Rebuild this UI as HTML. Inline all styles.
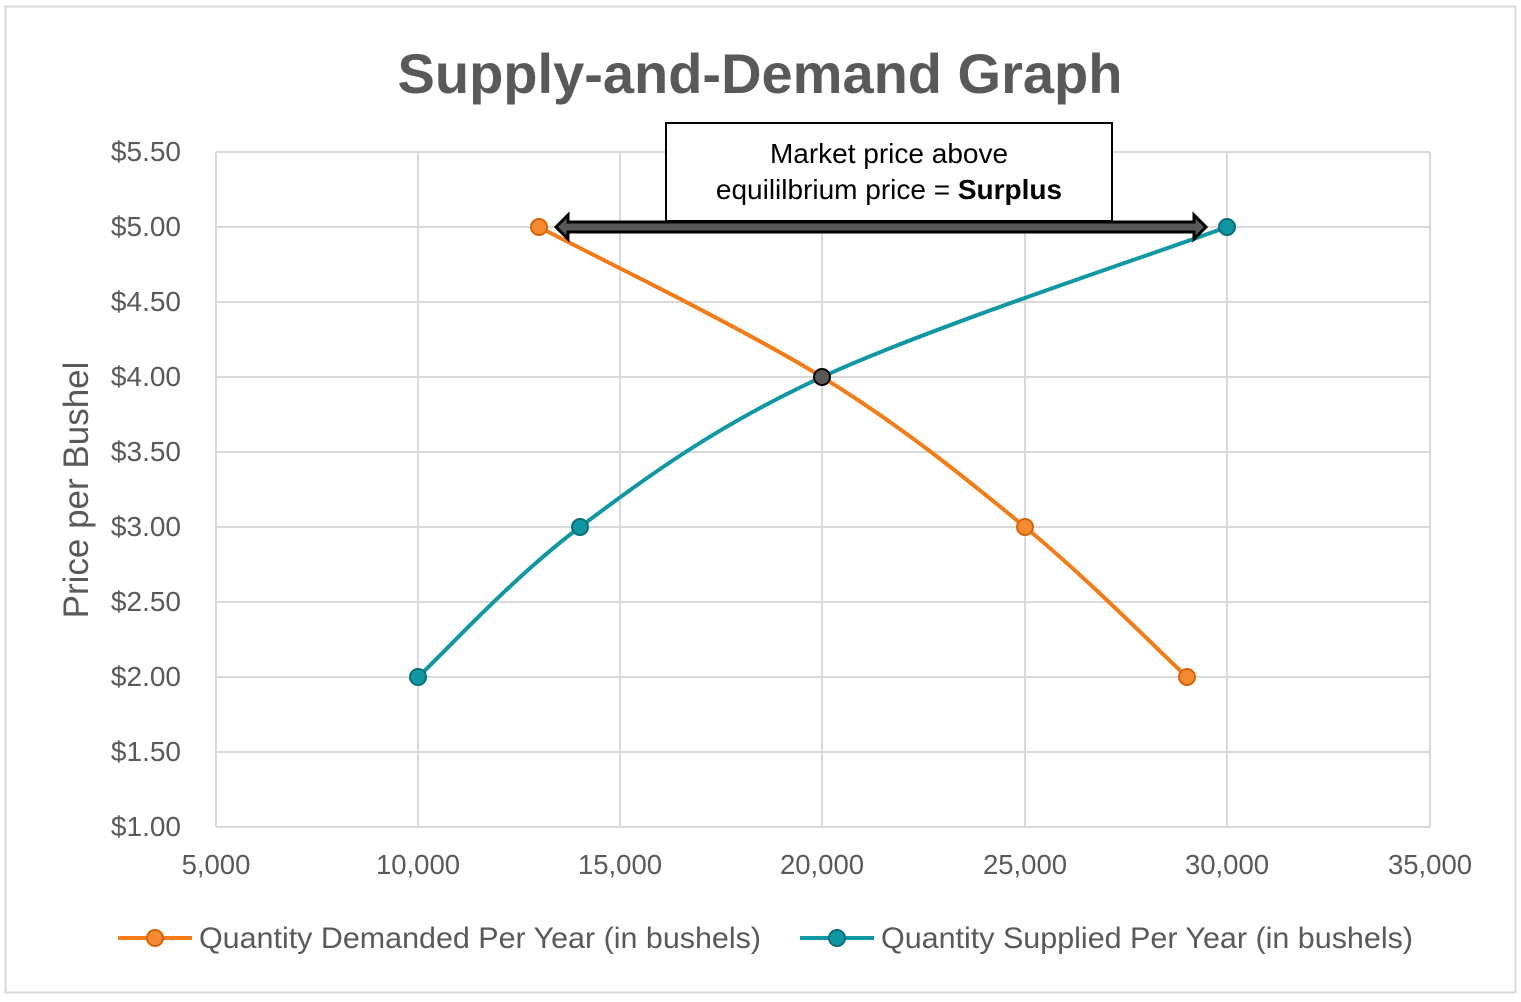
<!DOCTYPE html>
<html><head><meta charset="utf-8"><style>
body{margin:0;background:#fff}
svg text{font-family:"Liberation Sans",sans-serif}
</style></head><body>
<svg width="1521" height="997" viewBox="0 0 1521 997" xmlns="http://www.w3.org/2000/svg">
<rect x="0" y="0" width="1521" height="997" fill="#fff"/>
<rect x="5.5" y="6.5" width="1510" height="986" fill="none" stroke="#d9d9d9" stroke-width="2"/>
<text x="760" y="93" text-anchor="middle" font-size="56" font-weight="bold" fill="#595959">Supply-and-Demand Graph</text>
<g stroke="#d9d9d9" stroke-width="2">
<line x1="216" y1="152" x2="1430" y2="152"/><line x1="216" y1="227" x2="1430" y2="227"/>
<line x1="216" y1="302" x2="1430" y2="302"/><line x1="216" y1="377" x2="1430" y2="377"/>
<line x1="216" y1="452" x2="1430" y2="452"/><line x1="216" y1="527" x2="1430" y2="527"/>
<line x1="216" y1="602" x2="1430" y2="602"/><line x1="216" y1="677" x2="1430" y2="677"/>
<line x1="216" y1="752" x2="1430" y2="752"/><line x1="216" y1="827" x2="1430" y2="827"/>
<line x1="216" y1="152" x2="216" y2="827"/><line x1="418" y1="152" x2="418" y2="827"/>
<line x1="620" y1="152" x2="620" y2="827"/><line x1="822" y1="152" x2="822" y2="827"/>
<line x1="1025" y1="152" x2="1025" y2="827"/><line x1="1227" y1="152" x2="1227" y2="827"/>
<line x1="1430" y1="152" x2="1430" y2="827"/>
</g>
<g font-size="28" fill="#595959" text-anchor="end">
<text x="181" y="161">$5.50</text><text x="181" y="236">$5.00</text><text x="181" y="311">$4.50</text>
<text x="181" y="386">$4.00</text><text x="181" y="461">$3.50</text><text x="181" y="536">$3.00</text>
<text x="181" y="611">$2.50</text><text x="181" y="686">$2.00</text><text x="181" y="761">$1.50</text>
<text x="181" y="836">$1.00</text>
</g>
<g font-size="27.5" fill="#595959" text-anchor="middle">
<text x="216" y="874">5,000</text><text x="418" y="874">10,000</text><text x="620" y="874">15,000</text>
<text x="822" y="874">20,000</text><text x="1025" y="874">25,000</text><text x="1227" y="874">30,000</text>
<text x="1430" y="874">35,000</text>
</g>
<text transform="translate(88,490) rotate(-90)" text-anchor="middle" font-size="35" fill="#595959">Price per Bushel</text>
<path d="M418,677 C445,652 513,577 580,527 C647,477 714,427 822,377 C930,327 1160,252 1227,227" fill="none" stroke="#0e98a3" stroke-width="4"/>
<path d="M539,227 C586,252 741,327 822,377 C903,427 964,477 1025,527 C1086,577 1160,652 1187,677" fill="none" stroke="#f57c14" stroke-width="4"/>
<g fill="#0e98a3" stroke="#0b6f77" stroke-width="2">
<circle cx="418" cy="677" r="8"/><circle cx="580" cy="527" r="8"/><circle cx="1227" cy="227" r="8"/>
</g>
<g fill="#f58a2e" stroke="#d4640a" stroke-width="2">
<circle cx="539" cy="227" r="8"/><circle cx="1025" cy="527" r="8"/><circle cx="1187" cy="677" r="8"/>
</g>
<circle cx="822" cy="377" r="8" fill="#595959" stroke="#000" stroke-width="2"/>
<rect x="666" y="123" width="446" height="98" fill="#fff" stroke="#000" stroke-width="2"/>
<text x="889" y="163" text-anchor="middle" font-size="28" fill="#000">Market price above</text>
<text x="889" y="199" text-anchor="middle" font-size="28" fill="#000">equililbrium price = <tspan font-weight="bold">Surplus</tspan></text>
<polygon points="556,227 568,215 568,222 1194,222 1194,215 1206,227 1194,239 1194,232 568,232 568,239" fill="#595959" stroke="#000" stroke-width="3" stroke-linejoin="miter"/>
<line x1="118" y1="938" x2="192" y2="938" stroke="#f57c14" stroke-width="4"/>
<circle cx="155" cy="938" r="8" fill="#f58a2e" stroke="#d4640a" stroke-width="2"/>
<text x="199" y="948" font-size="30" fill="#595959" textLength="562" lengthAdjust="spacingAndGlyphs">Quantity Demanded Per Year (in bushels)</text>
<line x1="800" y1="938" x2="874" y2="938" stroke="#0e98a3" stroke-width="4"/>
<circle cx="837" cy="938" r="8" fill="#0e98a3" stroke="#0b6f77" stroke-width="2"/>
<text x="881" y="948" font-size="30" fill="#595959" textLength="532" lengthAdjust="spacingAndGlyphs">Quantity Supplied Per Year (in bushels)</text>
</svg>
</body></html>
